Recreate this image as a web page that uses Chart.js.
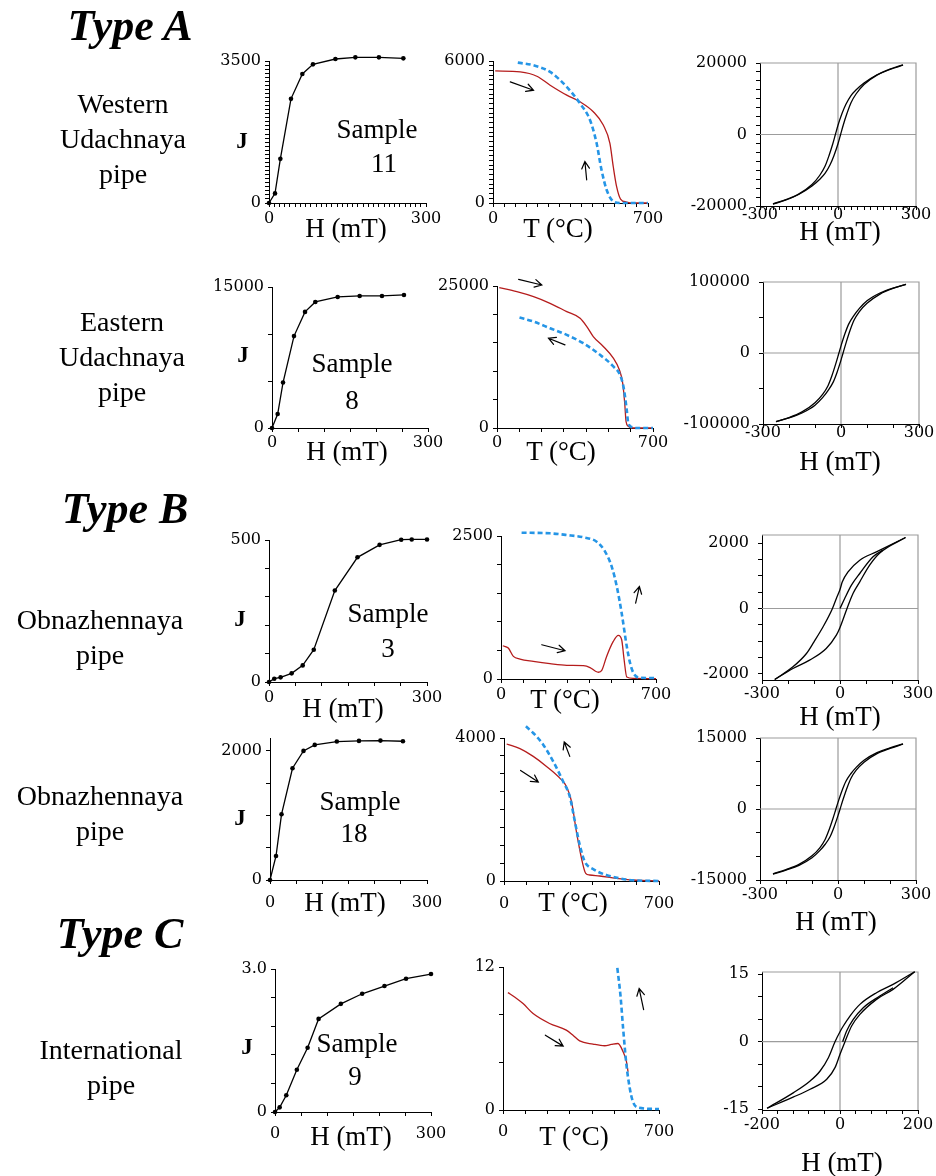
<!DOCTYPE html>
<html>
<head>
<meta charset="utf-8">
<script src="https://cdn.jsdelivr.net/npm/chart.js@4.4.1/dist/chart.umd.min.js"></script>
<style>
body { margin: 0; background: #fff; }
#page { position: relative; width: 936px; height: 1176px; overflow: hidden; font-family: 'Liberation Serif', 'Times New Roman', serif; color: #000; }
#page canvas { position: absolute; z-index: 1; }
.t { position: absolute; z-index: 2; transform: translate(-50%, -50%); line-height: 1; white-space: nowrap; font-size: 27px; }
.type { font-weight: bold; font-style: italic; font-size: 44px; }
.j { font-weight: bold; font-size: 23px; }
.rl { position: absolute; z-index: 2; transform: translateX(-50%); text-align: center; line-height: 35px; font-size: 28px; white-space: nowrap; }
</style>
</head>
<body>
<div id="page">
  <div class="t type" style="left:130px;top:26px">Type A</div>
  <div class="t type" style="left:125px;top:509px">Type B</div>
  <div class="t type" style="left:120px;top:934px">Type C</div>

  <div class="rl" style="left:123px;top:86px">Western<br>Udachnaya<br>pipe</div>
  <div class="rl" style="left:122px;top:304px">Eastern<br>Udachnaya<br>pipe</div>
  <div class="rl" style="left:100px;top:602px">Obnazhennaya<br>pipe</div>
  <div class="rl" style="left:100px;top:778px">Obnazhennaya<br>pipe</div>
  <div class="rl" style="left:111px;top:1032px">International<br>pipe</div>

  <div class="t j" style="left:242px;top:140px">J</div>
  <div class="t j" style="left:243px;top:354px">J</div>
  <div class="t j" style="left:240px;top:618px">J</div>
  <div class="t j" style="left:240px;top:817px">J</div>
  <div class="t j" style="left:247px;top:1046px">J</div>

  <div class="t" style="left:377px;top:129px">Sample</div>
  <div class="t" style="left:384px;top:163px">11</div>
  <div class="t" style="left:352px;top:363px">Sample</div>
  <div class="t" style="left:352px;top:400px">8</div>
  <div class="t" style="left:388px;top:613px">Sample</div>
  <div class="t" style="left:388px;top:648px">3</div>
  <div class="t" style="left:360px;top:801px">Sample</div>
  <div class="t" style="left:354px;top:833px">18</div>
  <div class="t" style="left:357px;top:1043px">Sample</div>
  <div class="t" style="left:355px;top:1076px">9</div>

  <div class="t" style="left:346px;top:228px">H (mT)</div>
  <div class="t" style="left:558px;top:228px">T (°C)</div>
  <div class="t" style="left:840px;top:231px">H (mT)</div>
  <div class="t" style="left:347px;top:451px">H (mT)</div>
  <div class="t" style="left:561px;top:451px">T (°C)</div>
  <div class="t" style="left:840px;top:461px">H (mT)</div>
  <div class="t" style="left:343px;top:708px">H (mT)</div>
  <div class="t" style="left:565px;top:699px">T (°C)</div>
  <div class="t" style="left:840px;top:716px">H (mT)</div>
  <div class="t" style="left:345px;top:902px">H (mT)</div>
  <div class="t" style="left:573px;top:902px">T (°C)</div>
  <div class="t" style="left:836px;top:921px">H (mT)</div>
  <div class="t" style="left:351px;top:1136px">H (mT)</div>
  <div class="t" style="left:574px;top:1136px">T (°C)</div>
  <div class="t" style="left:842px;top:1162px">H (mT)</div>
</div>
<script>
// ---- Sample 11, Western Udachnaya ----
var jhH11 = [0, 11.5, 21.7, 42, 63.7, 84, 126.9, 165, 210, 256.7];
var jhJ11 = [0, 237, 1088, 2567, 3181, 3418, 3549, 3590, 3590, 3565];
var heatT11 = [10, 123, 198, 258, 333, 393, 453, 498, 528, 543, 558, 576, 603, 632, 700];
var heatJ11 = [5579, 5537, 5355, 4977, 4556, 4276, 3855, 3294, 2523, 1542, 701, 168, 42, 0, 0];
var coolT11 = [112, 183, 258, 333, 393, 438, 468, 490, 513, 543, 573, 700];
var coolJ11 = [5930, 5818, 5537, 4907, 4206, 3505, 2523, 1402, 561, 70, 0, 0];
var arrows11 = [[78, 5117, 183, 4766], [423, 981, 415, 1752]];
var hysUpH11 = [-250, -200, -150, -100, -70, -50, -35, -20, -10, 0, 15, 30, 50, 70, 100, 150, 200, 250];
var hysUpM11 = [-19400, -18200, -16600, -14000, -11400, -8900, -6000, -2600, 0, 2600, 5800, 8400, 10900, 12500, 14400, 16700, 18300, 19500];
var hysLoH11 = [-250, -200, -150, -100, -70, -50, -30, -15, 0, 10, 20, 35, 50, 70, 100, 150, 200, 250];
var hysLoM11 = [-19500, -18300, -16700, -14400, -12500, -10900, -8400, -5800, -2600, 0, 2600, 6000, 8900, 11400, 14000, 16600, 18200, 19400];

// ---- Sample 8, Eastern Udachnaya ----
var jhH8 = [0, 10.9, 21.2, 42.3, 63.5, 83.3, 126.3, 168.6, 211.5, 253.8];
var jhJ8 = [0, 1482, 4835, 9776, 12353, 13412, 13941, 14047, 14047, 14153];
var heatT8 = [10, 89, 164, 238, 313, 373, 403, 432, 477, 522, 549, 564, 573, 579, 589, 611, 700];
var heatJ8 = [24707, 24005, 23126, 21956, 20492, 19321, 17857, 16101, 14344, 12295, 10246, 7904, 4391, 1171, 293, 0, 0];
var coolT8 = [101, 164, 238, 313, 387, 462, 522, 555, 570, 582, 589, 604, 626, 700];
var coolJ8 = [19438, 18735, 17564, 16393, 14930, 12881, 10831, 9075, 6733, 3220, 878, 176, 0, 0];
var arrows8 = [[97, 26170, 201, 25176], [305, 14637, 231, 15808]];
var hysUpH8 = [-250, -200, -150, -100, -70, -50, -35, -20, -8, 0, 15, 30, 50, 70, 100, 150, 200, 250];
var hysUpM8 = [-96500, -91000, -83000, -70000, -58000, -46000, -32000, -15000, 0, 10000, 27000, 41000, 53000, 62500, 73500, 84500, 91500, 96700];
var hysLoH8 = [-250, -200, -150, -100, -70, -50, -30, -15, 0, 8, 20, 35, 50, 70, 100, 150, 200, 250];
var hysLoM8 = [-96700, -91500, -84500, -73500, -62500, -53000, -41000, -27000, -10000, 0, 15000, 32000, 46000, 58000, 70000, 83000, 91000, 96500];

// ---- Sample 3, Obnazhennaya ----
var jhH3 = [0, 10, 22, 43, 64, 85, 125, 168, 210, 251, 271, 300];
var jhJ3 = [0, 11.7, 16.4, 30.4, 58.5, 113.6, 322, 439, 483, 501, 502, 502];
var heatT3 = [8, 33, 56, 86, 146, 221, 297, 372, 402, 425, 440, 455, 477, 507, 530, 545, 556, 568, 598, 700];
var heatJ3 = [581, 541, 395, 349, 308, 267, 238, 233, 200, 140, 118, 150, 395, 657, 762, 686, 337, 35, 12, 6];
var coolT3 = [93, 221, 297, 372, 432, 470, 500, 523, 545, 568, 583, 598, 628, 700];
var coolJ3 = [2558, 2547, 2517, 2477, 2401, 2227, 1965, 1616, 1151, 570, 279, 105, 23, 17];
var arrows3 = [[184, 599, 289, 494], [608, 1326, 625, 1616]];
var hysUpH3 = [-251, -181, -129, -100, -65, -29, -14, 0, 9, 31, 76, 140, 252];
var hysUpM3 = [-2173, -1786, -1378, -1020, -561, 0, 306, 582, 816, 1122, 1480, 1735, 2173];
var hysLoH3 = [-251, -181, -117, -53, -14, 0, 27, 50, 76, 114, 153, 252];
var hysLoM3 = [-2173, -1837, -1582, -1224, -816, -582, 0, 459, 816, 1327, 1700, 2173];
var hysVirH3 = [0, 18, 44, 76, 127, 165];
var hysVirM3 = [0, 306, 714, 1071, 1582, 1786];

// ---- Sample 18, Obnazhennaya ----
var jhH18 = [0, 11.5, 22, 43, 64, 85.5, 127.7, 170, 211, 254];
var jhJ18 = [0, 372, 1018, 1731, 2000, 2093, 2145, 2155, 2160, 2150];
var heatT18 = [12, 72, 132, 192, 252, 282, 305, 327, 350, 369, 387, 432, 507, 583, 700];
var heatJ18 = [3832, 3701, 3486, 3206, 2879, 2645, 2224, 1383, 636, 215, 168, 140, 75, 28, 0];
var coolT18 = [99, 132, 177, 222, 267, 297, 320, 342, 365, 402, 462, 522, 583, 700];
var coolJ18 = [4327, 4140, 3813, 3346, 2785, 2364, 1664, 1009, 542, 336, 168, 75, 19, 0];
var arrows18 = [[297, 3486, 272, 3888], [75, 3093, 155, 2766]];
var hysUpH18 = [-250, -200, -150, -100, -70, -50, -35, -20, -8, 0, 15, 30, 50, 70, 100, 150, 200, 250];
var hysUpM18 = [-13700, -12800, -11700, -9900, -8200, -6500, -4500, -2100, 0, 1400, 3800, 5800, 7500, 8800, 10300, 11900, 12900, 13750];
var hysLoH18 = [-250, -200, -150, -100, -70, -50, -30, -15, 0, 8, 20, 35, 50, 70, 100, 150, 200, 250];
var hysLoM18 = [-13750, -12900, -11900, -10300, -8800, -7500, -5800, -3800, -1400, 0, 2100, 4500, 6500, 8200, 9900, 11700, 12800, 13700];

// ---- Sample 9, International ----
var jhH9 = [0, 9, 21.7, 42, 62.7, 83.8, 126.7, 167.6, 210.5, 252, 300];
var jhJ9 = [0, 0.098, 0.351, 0.885, 1.349, 1.953, 2.269, 2.48, 2.642, 2.796, 2.894];
var heatT9 = [22, 52, 90, 135, 209, 284, 314, 344, 404, 456, 486, 516, 539, 554, 561];
var heatJ9 = [9.85, 9.49, 8.93, 8.09, 7.26, 6.7, 6.28, 5.8, 5.53, 5.39, 5.5, 5.58, 4.88, 4.05, 3.21];
var coolT9 = [513, 527, 539, 554, 569, 583, 606, 700];
var coolJ9 = [11.92, 9.63, 6.84, 3.77, 1.81, 0.7, 0.2, 0.08];
var arrows9 = [[190, 6.28, 270, 5.36], [631, 8.43, 611, 10.19]];
var hysUpH9 = [-187, -119, -76.6, -51, -29.8, -12.8, 0, 8.5, 25.5, 51, 93.6, 136, 191.5];
var hysUpM9 = [-14.81, -11.33, -8.74, -6.52, -3.56, 0, 2.22, 3.48, 5.7, 8.3, 10.89, 12.74, 15.56];
var hysLoH9 = [-187, -119, -76.6, -34, -12.8, 0, 12.8, 29.8, 51, 93.6, 136, 191.5];
var hysLoM9 = [-14.81, -12.3, -10.59, -8.37, -5.78, -2.81, 0, 3.48, 6.07, 9.41, 11.63, 15.56];
var hysVirH9 = [6.8, 17, 34, 59.6, 102, 136];
var hysVirM9 = [0, 2.37, 4.96, 7.56, 10.15, 12.0];

// tick labels
var jhX = ['0', '300'];
var tmX = ['0', '700'];
var hysX300 = ['-300', '0', '300'];
var hysX200 = ['-200', '0', '200'];

// plot boxes on the page: left, top, right, bottom
var boxes = {
  a11: [269, 61, 426, 203], b11: [493, 61, 648, 203], c11: [760, 63, 916, 206],
  a8: [272, 287, 428, 428], b8: [497, 286, 653, 428], c8: [763, 282, 919, 424],
  a3: [269, 540, 427, 682], b3: [501, 536, 656, 679], c3: [762, 535, 918, 680],
  a18: [270, 738, 427, 880], b18: [504, 738, 659, 881], c18: [760, 738, 916, 880],
  a9: [275, 969, 431, 1112], b9: [503, 967, 659, 1110], c9: [762, 972, 918, 1110]
};

var RED = '#b51c1c', BLUE = '#2595e6';
var PADL = 90, PADR = 28, PADT = 28, PADB = 34;
var page = document.getElementById('page');

function pts(xs, ys) {
  return xs.map(function (v, i) { return {x: v, y: ys[i]}; });
}

function tickValues(min, max, step) {
  var out = [];
  var v = Math.ceil(min / step - 1e-9) * step;
  while (v <= max + 1e-9) {
    out.push(Math.round(v * 1e6) / 1e6);
    v += step;
  }
  return out;
}

function axis(pos, ax, labels, pad) {
  var min = ax[0], max = ax[1], step = ax[2];
  return {
    type: 'linear', position: pos, min: min, max: max, bounds: 'data',
    afterBuildTicks: function (s) { s.ticks = tickValues(min, max, step).map(function (v) { return {value: v}; }); },
    afterFit: function (s) { if (pos === 'left') s.width = PADL; else s.height = PADB; },
    grid: {drawOnChartArea: false, drawTicks: true, tickLength: 4, color: '#000', lineWidth: 1},
    border: {display: true, color: '#000', width: 1},
    ticks: {
      autoSkip: false, maxRotation: 0, minRotation: 0, padding: pad, color: '#000',
      font: {family: "'DejaVu Serif', serif", size: 16, lineHeight: 1},
      callback: function (v) {
        var l = labels.find(function (t) { return Math.abs(Number(t) - v) < 1e-6; });
        return l === undefined ? '' : l;
      }
    }
  };
}

function arrowPlugin(list) {
  return {
    id: 'arrows',
    afterDatasetsDraw: function (chart) {
      var ctx = chart.ctx, x = chart.scales.x, y = chart.scales.y;
      ctx.save();
      ctx.strokeStyle = '#000';
      ctx.lineWidth = 1.2;
      ctx.lineCap = 'round';
      list.forEach(function (a) {
        var x1 = x.getPixelForValue(a[0]), y1 = y.getPixelForValue(a[1]);
        var x2 = x.getPixelForValue(a[2]), y2 = y.getPixelForValue(a[3]);
        var ang = Math.atan2(y2 - y1, x2 - x1), h = 8;
        ctx.beginPath();
        ctx.moveTo(x1, y1);
        ctx.lineTo(x2, y2);
        ctx.moveTo(x2 - h * Math.cos(ang - 0.5), y2 - h * Math.sin(ang - 0.5));
        ctx.lineTo(x2, y2);
        ctx.lineTo(x2 - h * Math.cos(ang + 0.5), y2 - h * Math.sin(ang + 0.5));
        ctx.stroke();
      });
      ctx.restore();
    }
  };
}

var framePlugin = {
  id: 'frame',
  beforeDatasetsDraw: function (chart) {
    var ctx = chart.ctx, a = chart.chartArea;
    var x0 = chart.scales.x.getPixelForValue(0), y0 = chart.scales.y.getPixelForValue(0);
    ctx.save();
    ctx.strokeStyle = '#9c9c9c';
    ctx.lineWidth = 1.2;
    ctx.beginPath();
    ctx.moveTo(a.left, a.top);
    ctx.lineTo(a.right, a.top);
    ctx.lineTo(a.right, a.bottom);
    ctx.moveTo(x0, a.top);
    ctx.lineTo(x0, a.bottom);
    ctx.moveTo(a.left, y0);
    ctx.lineTo(a.right, y0);
    ctx.stroke();
    ctx.restore();
  }
};

function jhSet(xs, ys) {
  return {data: pts(xs, ys), showLine: true, borderColor: '#000', backgroundColor: '#000',
    borderWidth: 1.3, pointRadius: 2.3, pointBorderWidth: 0, tension: 0, clip: false};
}
function heatSet(xs, ys) {
  return {data: pts(xs, ys), showLine: true, borderColor: RED, borderWidth: 1.3, pointRadius: 0,
    cubicInterpolationMode: 'monotone', clip: false};
}
function coolSet(xs, ys) {
  return {data: pts(xs, ys), showLine: true, borderColor: BLUE, borderWidth: 2.6, borderDash: [5, 3],
    pointRadius: 0, cubicInterpolationMode: 'monotone', clip: false};
}
function hysSet(xs, ys) {
  return {data: pts(xs, ys), showLine: true, borderColor: '#000', borderWidth: 1.3, pointRadius: 0,
    cubicInterpolationMode: 'monotone', clip: false};
}

function makeChart(key, xAx, xLabels, xpad, yAx, yLabels, ypad, datasets, plugins) {
  var b = boxes[key];
  var w = b[2] - b[0] + PADL + PADR, h = b[3] - b[1] + PADT + PADB;
  var cv = document.createElement('canvas');
  cv.width = w;
  cv.height = h;
  cv.style.left = (b[0] - PADL) + 'px';
  cv.style.top = (b[1] - PADT) + 'px';
  cv.style.width = w + 'px';
  cv.style.height = h + 'px';
  page.appendChild(cv);
  return new Chart(cv, {
    type: 'scatter',
    data: {datasets: datasets},
    options: {
      responsive: false, animation: false, devicePixelRatio: 1, events: [],
      layout: {padding: {left: 0, right: PADR, top: PADT, bottom: 0}},
      plugins: {legend: {display: false}, tooltip: {enabled: false}},
      scales: {x: axis('bottom', xAx, xLabels, xpad), y: axis('left', yAx, yLabels, ypad)}
    },
    plugins: plugins || []
  });
}

// row 1
makeChart('a11', [0, 300, 10], jhX, 4, [0, 3500, 100], ['0', '3500'], 4, [jhSet(jhH11, jhJ11)]);
makeChart('b11', [0, 700, 50], tmX, 4, [0, 6000, 200], ['0', '6000'], 4,
  [coolSet(coolT11, coolJ11), heatSet(heatT11, heatJ11)], [arrowPlugin(arrows11)]);
makeChart('c11', [-300, 300, 25], hysX300, -3, [-20000, 20000, 2500], ['-20000', '0', '20000'], 9,
  [hysSet(hysUpH11, hysUpM11), hysSet(hysLoH11, hysLoM11)], [framePlugin]);

// row 2
makeChart('a8', [0, 300, 50], jhX, 2.5, [0, 15000, 5000], ['0', '15000'], 4, [jhSet(jhH8, jhJ8)]);
makeChart('b8', [0, 700, 100], tmX, 2.5, [0, 25000, 5000], ['0', '25000'], 4,
  [coolSet(coolT8, coolJ8), heatSet(heatT8, heatJ8)], [arrowPlugin(arrows8)]);
makeChart('c8', [-300, 300, 100], hysX300, -3.5, [-100000, 100000, 50000], ['-100000', '0', '100000'], 9,
  [hysSet(hysUpH8, hysUpM8), hysSet(hysLoH8, hysLoM8)], [framePlugin]);

// row 3
makeChart('a3', [0, 300, 50], jhX, 3.5, [0, 500, 100], ['0', '500'], 4, [jhSet(jhH3, jhJ3)]);
makeChart('b3', [0, 700, 100], tmX, 3.5, [0, 2500, 500], ['0', '2500'], 4,
  [coolSet(coolT3, coolJ3), heatSet(heatT3, heatJ3)], [arrowPlugin(arrows3)]);
makeChart('c3', [-300, 300, 100], hysX300, 2, [-2190, 2250, 500], ['-2000', '0', '2000'], 9,
  [hysSet(hysUpH3, hysUpM3), hysSet(hysLoH3, hysLoM3), hysSet(hysVirH3, hysVirM3)], [framePlugin]);

// row 4
makeChart('a18', [0, 300, 50], jhX, 11, [0, 2200, 500], ['0', '2000'], 4, [jhSet(jhH18, jhJ18)]);
makeChart('b18', [0, 700, 100], tmX, 11, [0, 4000, 500], ['0', '4000'], 4,
  [coolSet(coolT18, coolJ18), heatSet(heatT18, heatJ18)], [arrowPlugin(arrows18)]);
makeChart('c18', [-300, 300, 100], hysX300, 2.5, [-15000, 15000, 5000], ['-15000', '0', '15000'], 9,
  [hysSet(hysUpH18, hysUpM18), hysSet(hysLoH18, hysLoM18)], [framePlugin]);

// row 5
makeChart('a9', [0, 300, 50], jhX, 10, [0, 3, 0.6], ['0', '3.0'], 4, [jhSet(jhH9, jhJ9)]);
makeChart('b9', [0, 700, 100], tmX, 10, [0, 12, 4], ['0', '12'], 4,
  [coolSet(coolT9, coolJ9), heatSet(heatT9, heatJ9)], [arrowPlugin(arrows9)]);
makeChart('c9', [-200, 200, 40], hysX200, 3, [-15.2, 15.5, 5], ['-15', '0', '15'], 9,
  [hysSet(hysUpH9, hysUpM9), hysSet(hysLoH9, hysLoM9), hysSet(hysVirH9, hysVirM9)], [framePlugin]);
</script>
</body>
</html>
